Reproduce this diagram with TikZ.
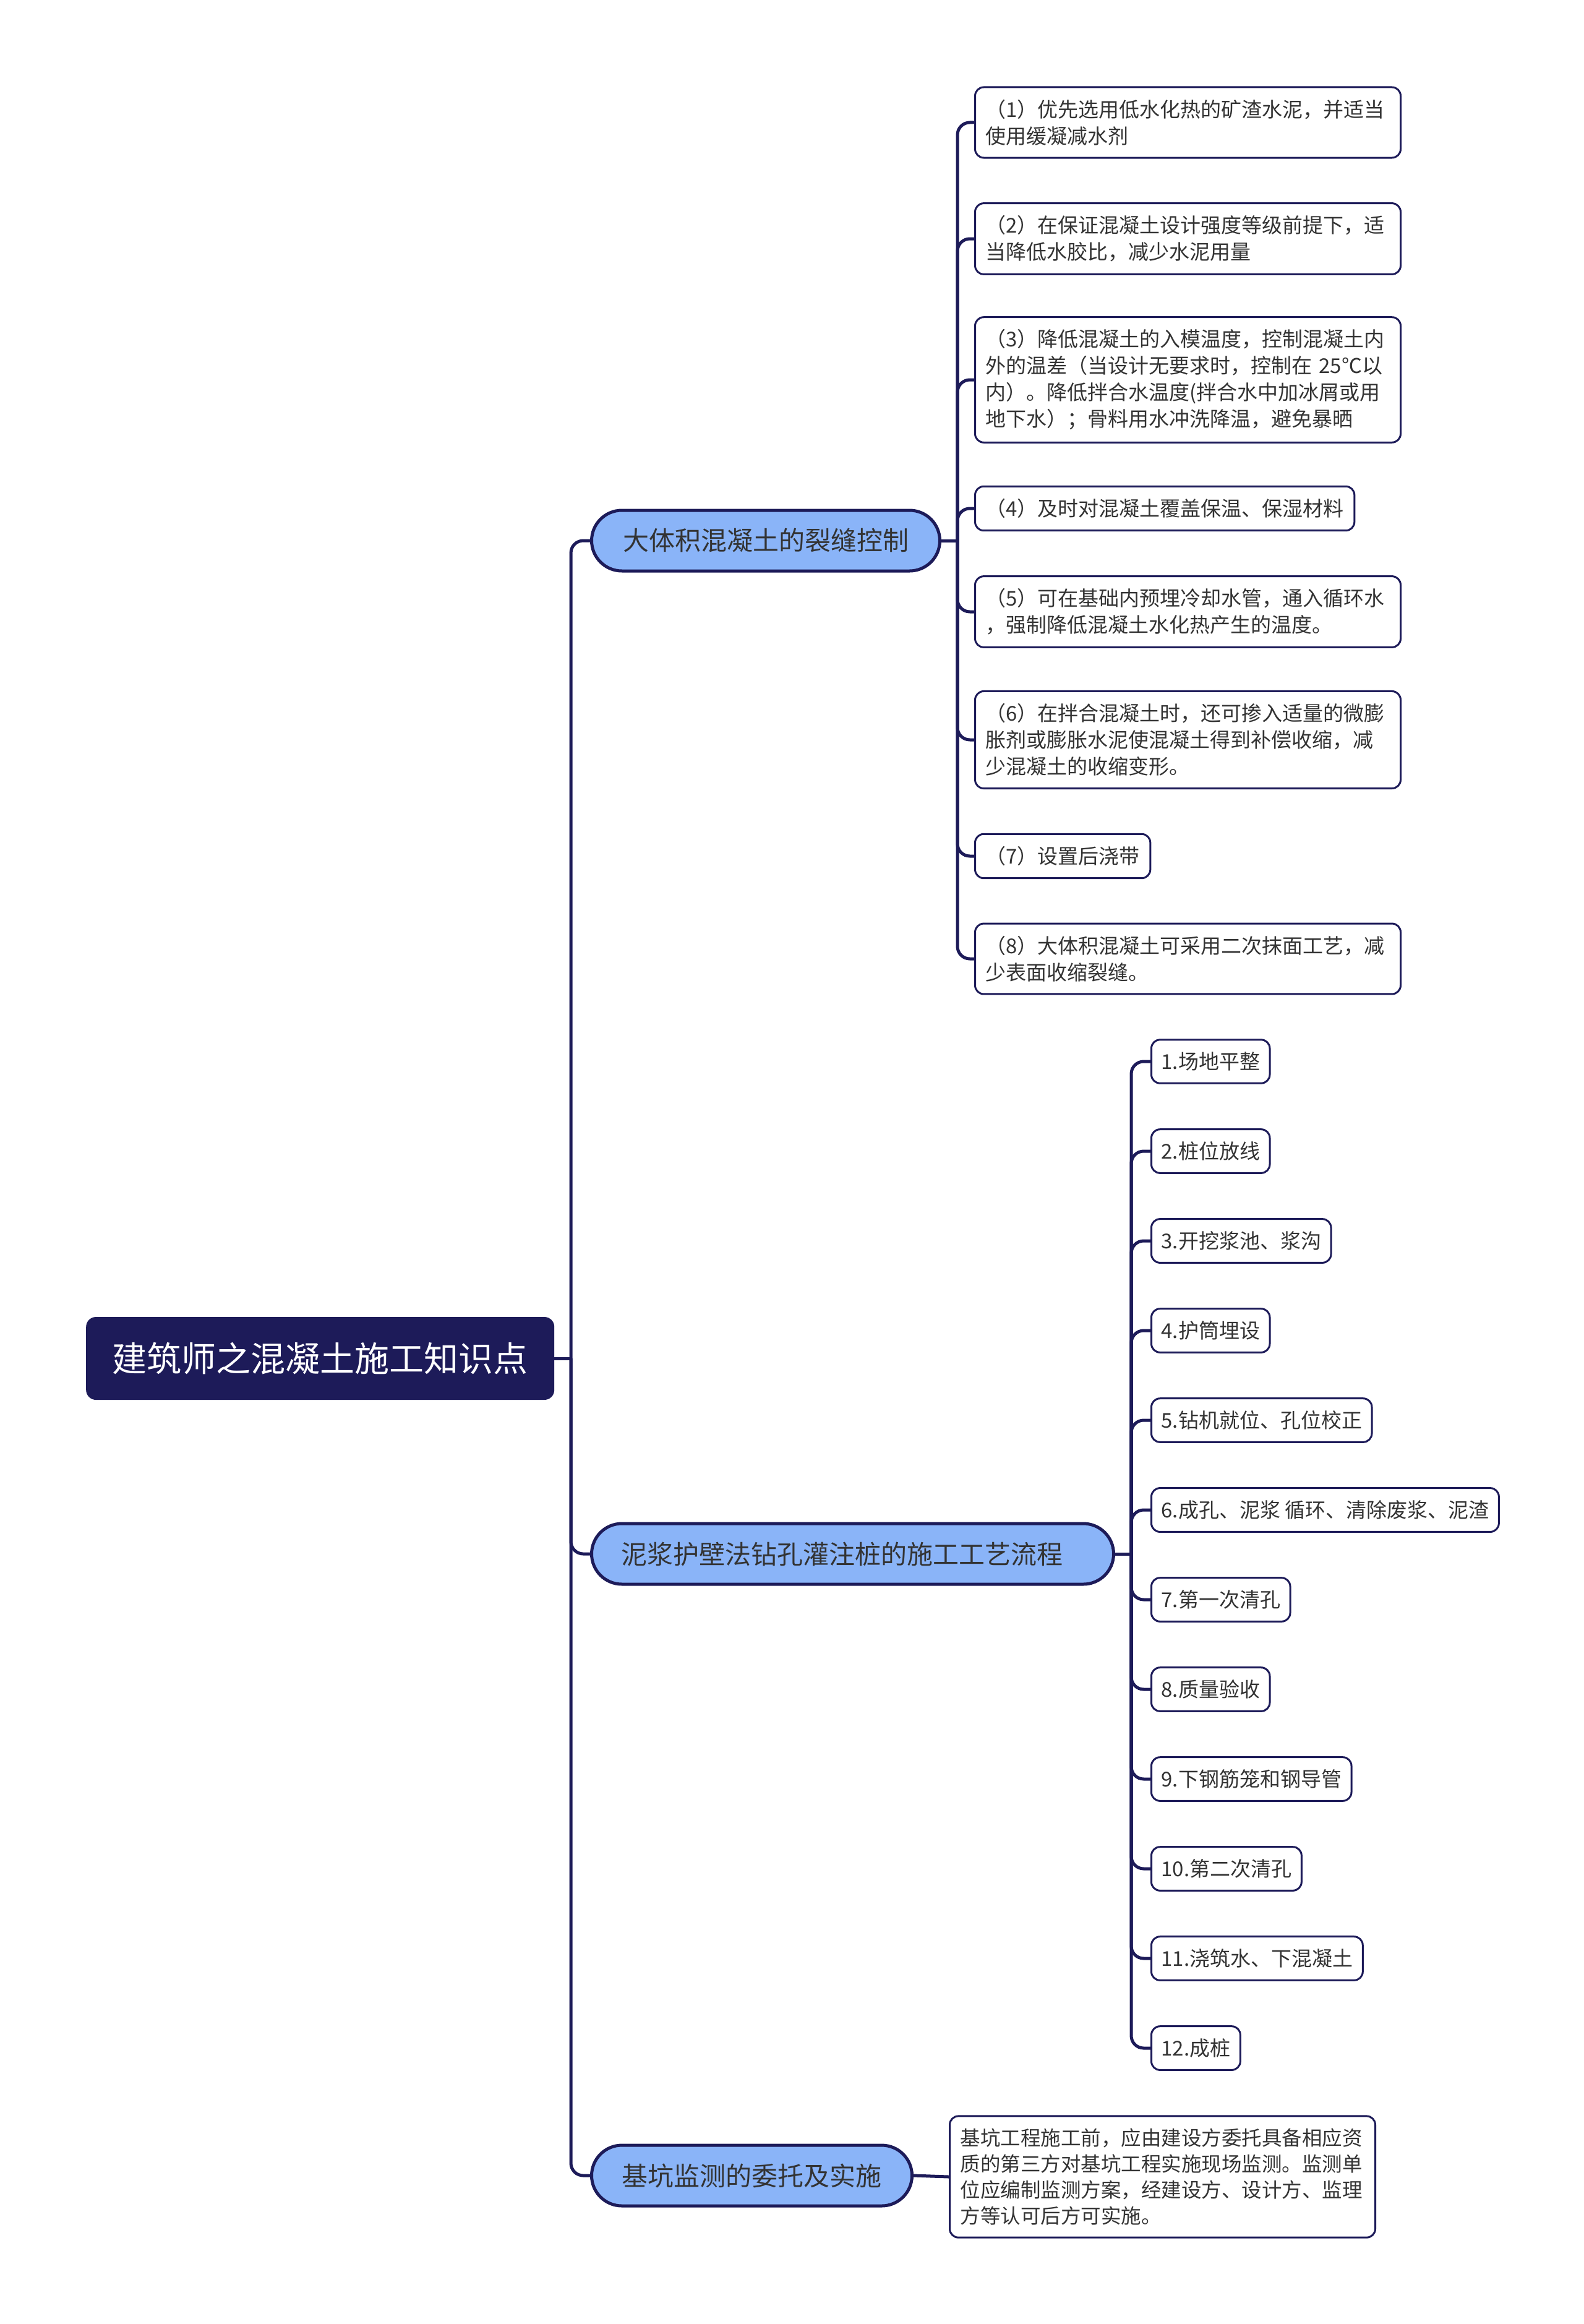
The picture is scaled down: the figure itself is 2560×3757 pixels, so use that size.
\documentclass[tikz,border=0pt]{standalone}
\usepackage{fontspec}
\setmainfont{Noto Sans CJK SC}
\definecolor{navy}{RGB}{29,27,89}
\definecolor{pillblue}{RGB}{138,180,248}
\definecolor{txt}{RGB}{51,51,51}
\tikzset{
 leaf/.style={draw=navy, line width=3pt, fill=white, rounded corners=14pt, inner xsep=16pt, inner ysep=20pt, font=\fontsize{33}{43}\selectfont, text=txt, anchor=west, align=left},
 wideleaf/.style={leaf, inner xsep=17pt, text width=654pt},
 branchbox/.style={draw=navy, line width=5pt, fill=pillblue, rounded corners=49pt, minimum height=98pt, inner xsep=48pt, inner ysep=0pt, font=\fontsize{42}{50}\selectfont, text=txt, anchor=west},
 rootbox/.style={fill=navy, rounded corners=16pt, minimum height=134pt, minimum width=757pt, inner xsep=40pt, font=\fontsize{56}{64}\selectfont, text=white, anchor=west},
 link/.style={draw=navy, line width=5pt, rounded corners=20pt}
}
\begin{document}
\begin{tikzpicture}[x=1pt,y=-1pt]
\fill[white] (0,0) rectangle (2560,3757);
\useasboundingbox (0,0) rectangle (2560,3757);

% root
\node[rootbox] (root) at (139,2196) {建筑师之混凝土施工知识点};

% branches
\node[branchbox, minimum width=563pt] (b1) at (954,874) {大体积混凝土的裂缝控制};
\node[branchbox, text width=748pt, align=left] (b2) at (954,2512) {泥浆护壁法钻孔灌注桩的施工工艺流程};
\node[branchbox, minimum width=518pt] (b3) at (954,3517) {基坑监测的委托及实施};

% branch 1 children
\node[wideleaf] (c1) at (1575,198) {（1）优先选用低水化热的矿渣水泥，并适当\\使用缓凝减水剂};
\node[wideleaf] (c2) at (1575,386) {（2）在保证混凝土设计强度等级前提下，适\\当降低水胶比，减少水泥用量};
\node[wideleaf] (c3) at (1575,614) {（3）降低混凝土的入模温度，控制混凝土内\\外的温差（当设计无要求时，控制在 25℃以\\内）。降低拌合水温度(拌合水中加冰屑或用\\地下水）；骨料用水冲洗降温，避免暴晒};
\node[leaf, inner xsep=17pt] (c4) at (1575,822) {（4）及时对混凝土覆盖保温、保湿材料};
\node[wideleaf] (c5) at (1575,989) {（5）可在基础内预埋冷却水管，通入循环水\\，强制降低混凝土水化热产生的温度。};
\node[wideleaf] (c6) at (1575,1196) {（6）在拌合混凝土时，还可掺入适量的微膨\\胀剂或膨胀水泥使混凝土得到补偿收缩，减\\少混凝土的收缩变形。};
\node[leaf, inner xsep=17pt] (c7) at (1575,1384) {（7）设置后浇带};
\node[wideleaf] (c8) at (1575,1550) {（8）大体积混凝土可采用二次抹面工艺，减\\少表面收缩裂缝。};

% branch 2 children
\node[leaf] (d1) at (1860,1716) {1.场地平整};
\node[leaf] (d2) at (1860,1861) {2.桩位放线};
\node[leaf] (d3) at (1860,2006) {3.开挖浆池、浆沟};
\node[leaf] (d4) at (1860,2151) {4.护筒埋设};
\node[leaf] (d5) at (1860,2296) {5.钻机就位、孔位校正};
\node[leaf] (d6) at (1860,2441) {6.成孔、泥浆 循环、清除废浆、泥渣};
\node[leaf] (d7) at (1860,2586) {7.第一次清孔};
\node[leaf] (d8) at (1860,2731) {8.质量验收};
\node[leaf] (d9) at (1860,2876) {9.下钢筋笼和钢导管};
\node[leaf] (d10) at (1860,3021) {10.第二次清孔};
\node[leaf] (d11) at (1860,3166) {11.浇筑水、下混凝土};
\node[leaf] (d12) at (1860,3311) {12.成桩};

% branch 3 child
\node[leaf, inner xsep=17pt, text width=654pt, font=\fontsize{32.5}{42}\selectfont] (e1) at (1534,3519) {基坑工程施工前，应由建设方委托具备相应资\\质的第三方对基坑工程实施现场监测。监测单\\位应编制监测方案，经建设方、设计方、监理\\方等认可后方可实施。};

% connectors
\coordinate (t0) at (923,2196);
\coordinate (t1) at (1548,874);
\coordinate (t2) at (1829,2512);
\draw[link] (root.east) -- (t0);
\foreach \b in {b1,b2,b3} \draw[link] (t0) |- (\b.west);
\draw[link] (b1.east) -- (t1);
\foreach \c in {c1,c2,c3,c4,c5,c6,c7,c8} \draw[link] (t1) |- (\c.west);
\draw[link] (b2.east) -- (t2);
\foreach \d in {d1,d2,d3,d4,d5,d6,d7,d8,d9,d10,d11,d12} \draw[link] (t2) |- (\d.west);
\draw[link] (b3.east) -- (e1.west);
\end{tikzpicture}
\end{document}
